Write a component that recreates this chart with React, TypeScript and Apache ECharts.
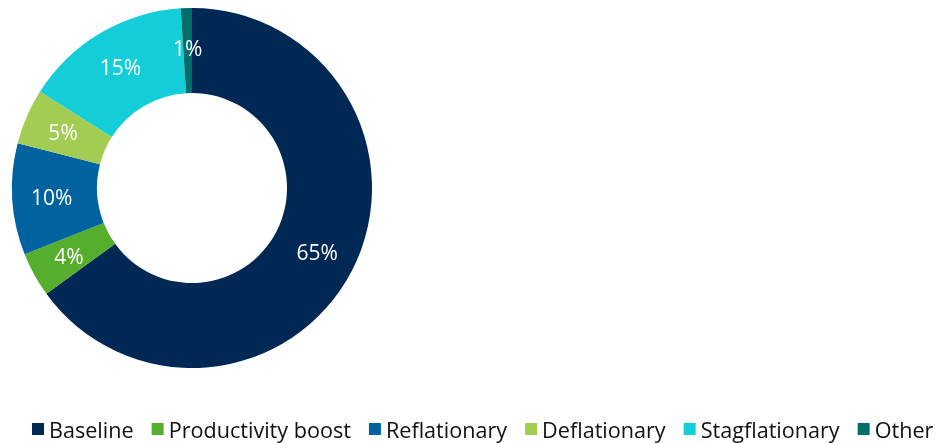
import React, { useEffect, useRef } from "react";
import * as echarts from "echarts";

const categories = ["Baseline", "Productivity boost", "Reflationary", "Deflationary", "Stagflationary", "Other"];
const values = [65, 4, 10, 5, 15, 1];
const colors = ["#002855", "#56ae2d", "#0063a0", "#a3cc52", "#13ced8", "#026e6a"];

export default function App() {
  const ref = useRef<HTMLDivElement>(null);
  useEffect(() => {
    if (!ref.current) return;
    const chart = echarts.init(ref.current, undefined, { renderer: "svg" });
    chart.setOption({
      animation: false,
      color: colors,
      textStyle: { fontFamily: "Open Sans" },
      legend: {
        top: 418,
        left: 32,
        padding: 0,
        icon: "rect",
        itemWidth: 12,
        itemHeight: 12,
        itemGap: 18,
        textStyle: { fontSize: 21.6, color: "#111111", fontFamily: "Open Sans" },
        data: categories,
      },
      series: [
        {
          type: "pie",
          center: [192, 188],
          radius: [95, 180],
          startAngle: 90,
          clockwise: true,
          avoidLabelOverlap: false,
          label: {
            show: true,
            position: "inside",
            formatter: "{c}%",
            color: "#ffffff",
            fontSize: 21,
            fontFamily: "Open Sans",
          },
          labelLine: { show: false },
          itemStyle: { borderWidth: 0 },
          emphasis: { disabled: true },
          data: categories.map((name, i) => ({ name, value: values[i] })),
        },
      ],
    });
    return () => chart.dispose();
  }, []);
  return <div ref={ref} style={{ position: "fixed", left: 0, top: 0, width: 949, height: 443 }} />;
}
